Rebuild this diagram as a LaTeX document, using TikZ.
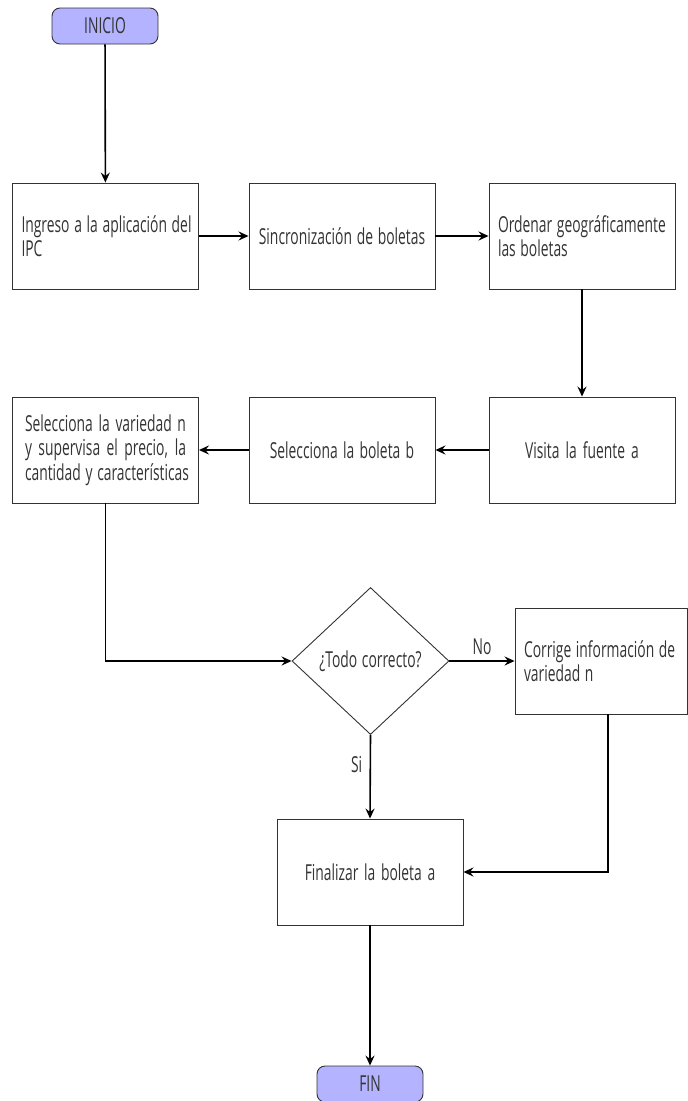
\documentclass[tikz,border=0pt]{standalone}
\usepackage{fontspec}
\setmainfont[FakeStretch=0.63, WordSpace=1.3]{Open Sans}
\usetikzlibrary{shapes, arrows.meta, positioning}

\definecolor{termfill}{RGB}{179,179,255}
\hyphenpenalty=10000

\begin{document}
\begin{tikzpicture}[x=1pt, y=-1pt,
    every node/.style={font=\fontsize{22}{24.5}\selectfont, text=black!80},
    box/.style={draw=black!80, line width=0.9pt, minimum height=106pt, text width=168pt, inner xsep=9pt, inner ysep=0pt, align=left,
        execute at begin node={\spaceskip=0pt\xspaceskip=0pt}},
    term/.style={draw=black!80, line width=0.9pt, fill=termfill, rounded corners=8pt, minimum width=106pt, minimum height=36pt},
    decision/.style={draw=black!80, line width=0.9pt, diamond, minimum width=157pt, minimum height=147pt, inner sep=0pt},
    flow/.style={line width=1.6pt, -{Stealth[length=10pt, width=9pt, inset=3.5pt]}}]

    \useasboundingbox (0,0) rectangle (688,1101);

    % Start and end
    \node[term] (inicio) at (105,26) {INICIO};
    \node[term] (fin) at (370,1084) {FIN};

    % First row
    \node[box] (ingreso) at (105.5,236) {\mbox{Ingreso a la aplicación del}\\IPC};
    \node[box, align=center] (sincro) at (342,236) {Sincronización de boletas};
    \node[box] (ordenar) at (582,236) {Ordenar geográficamente\\las boletas};

    % Second row
    \node[box, align=center] (visita) at (582,450) {Visita la fuente a};
    \node[box, align=center] (boleta) at (342,450) {Selecciona la boleta b};
    \node[box, text width=161pt, inner xsep=12.5pt] (variedad) at (105.5,450)
        {\makebox[161pt][s]{Selecciona la variedad n}\\\makebox[161pt][s]{y supervisa el precio, la}\\\mbox{cantidad y características}};

    % Check
    \node[decision] (check) at (370.5,661) {¿Todo correcto?};
    \node[box, text width=154pt, inner xsep=9pt] (corrige) at (601,661) {\mbox{Corrige información de}\\variedad n};
    \node[box, align=center] (final) at (370,872) {Finalizar la boleta a};

    % Connectors
    \draw[flow] (inicio) -- (ingreso);
    \draw[flow] (ingreso) -- (sincro);
    \draw[flow] (sincro) -- (ordenar);
    \draw[flow] (ordenar) -- (visita);
    \draw[flow] (visita) -- (boleta);
    \draw[flow] (boleta) -- (variedad);
    \draw[flow] (variedad.south) |- (check.west);
    \draw[flow] (check.east) -- node[above=2pt] (no) {No} (corrige.west);
    \draw[flow] (check.south) -- node[pos=0.35, left=4pt] (si) {Si} (final.north);
    \draw[flow] ([xshift=7pt]corrige.south) |- (final.east);
    \draw[flow] (final) -- (fin);

\end{tikzpicture}
\end{document}
